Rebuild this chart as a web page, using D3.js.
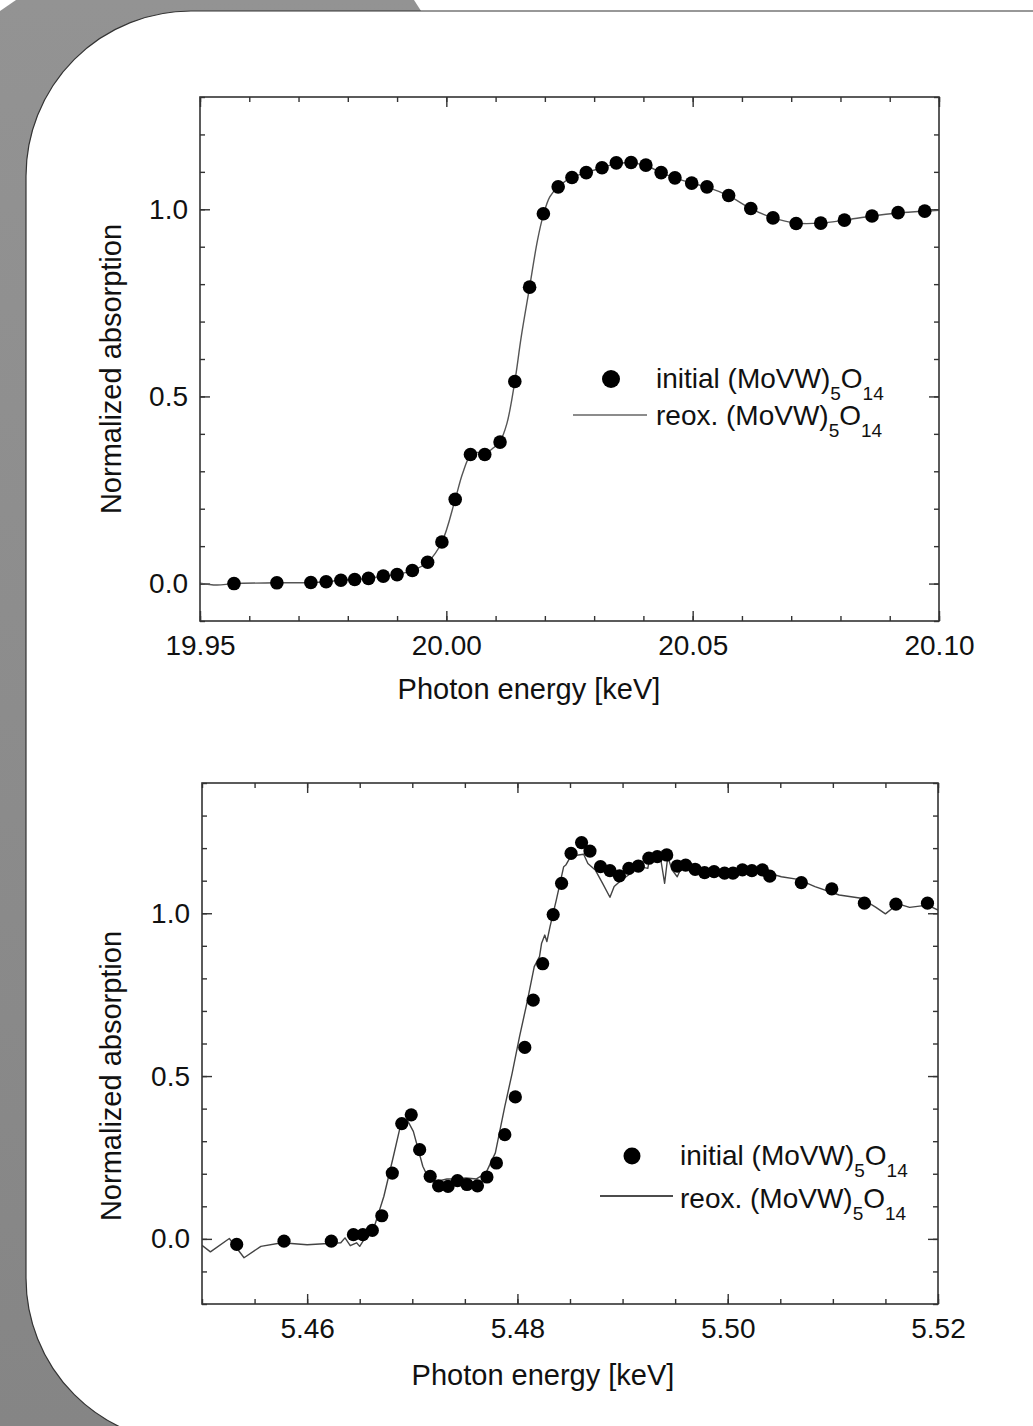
<!DOCTYPE html>
<html><head><meta charset="utf-8">
<script src="https://cdn.jsdelivr.net/npm/d3@7"></script>
<style>html,body{margin:0;padding:0;background:#fff;} svg{display:block}</style>
</head><body>
<svg id="chart" width="1033" height="1426"></svg>
<script>
// ---------------- DATA ----------------
// Upper panel: Mo K edge (keV)
const topInitialEnergy = [19.9569,19.9656,19.9725,19.9756,19.9786,19.9814,19.9842,19.9872,19.9900,19.9931,19.9962,19.9991,20.0018,20.0049,20.0078,20.0109,20.0139,20.0169,20.0197,20.0227,20.0255,20.0284,20.0316,20.0345,20.0375,20.0405,20.0436,20.0464,20.0498,20.0529,20.0573,20.0618,20.0663,20.0710,20.0760,20.0808,20.0864,20.0917,20.0971];
const topInitialValue  = [0.000,0.002,0.003,0.005,0.009,0.011,0.014,0.020,0.024,0.035,0.057,0.111,0.225,0.345,0.345,0.378,0.540,0.792,0.988,1.060,1.085,1.098,1.111,1.124,1.125,1.118,1.098,1.084,1.070,1.060,1.037,1.002,0.977,0.962,0.963,0.971,0.982,0.991,0.995];
const topReoxEnergy = [19.9500,19.9534,19.9570,19.9656,19.9725,19.9756,19.9786,19.9814,19.9842,19.9872,19.9900,19.9931,19.9962,19.9991,20.0018,20.0033,20.0049,20.0063,20.0078,20.0095,20.0109,20.0123,20.0139,20.0152,20.0169,20.0185,20.0197,20.0210,20.0227,20.0255,20.0284,20.0316,20.0345,20.0375,20.0405,20.0436,20.0464,20.0498,20.0529,20.0573,20.0618,20.0663,20.0710,20.0760,20.0808,20.0864,20.0917,20.0971,20.1000];
const topReoxValue  = [0.001,-0.004,0.000,0.002,0.003,0.005,0.009,0.011,0.014,0.020,0.024,0.035,0.057,0.111,0.225,0.294,0.343,0.350,0.347,0.362,0.380,0.428,0.540,0.659,0.792,0.917,0.985,1.033,1.060,1.085,1.098,1.111,1.122,1.124,1.117,1.098,1.084,1.070,1.059,1.036,1.002,0.977,0.963,0.963,0.971,0.982,0.990,0.995,0.997];
const topXTicks = [19.95, 20.00, 20.05, 20.10];
const topYTicks = [0.0, 0.5, 1.0];

// Lower panel: V K edge (keV)
const botInitialEnergy = [5.4533,5.4578,5.4623,5.4644,5.4653,5.4662,5.4671,5.4681,5.4690,5.4699,5.4707,5.4717,5.4725,5.4734,5.4743,5.4752,5.4762,5.4771,5.4780,5.4788,5.4798,5.4807,5.4815,5.4824,5.4834,5.4842,5.4851,5.4861,5.4869,5.4879,5.4888,5.4897,5.4906,5.4915,5.4925,5.4933,5.4942,5.4952,5.4960,5.4969,5.4978,5.4987,5.4997,5.5005,5.5014,5.5023,5.5033,5.5040,5.5070,5.5099,5.5130,5.5160,5.5190];
const botInitialValue  = [-0.017,-0.007,-0.007,0.013,0.013,0.026,0.071,0.202,0.354,0.381,0.274,0.192,0.163,0.161,0.179,0.167,0.163,0.190,0.233,0.320,0.436,0.588,0.733,0.845,0.996,1.092,1.184,1.217,1.191,1.143,1.131,1.115,1.138,1.145,1.169,1.174,1.179,1.145,1.148,1.135,1.125,1.128,1.123,1.123,1.133,1.131,1.133,1.114,1.094,1.075,1.031,1.028,1.031];
const botReoxEnergy = [5.4500,5.4508,5.4526,5.4540,5.4556,5.4576,5.4600,5.4632,5.4636,5.4641,5.4647,5.4650,5.4657,5.4664,5.4673,5.4682,5.4689,5.4695,5.4701,5.4710,5.4716,5.4724,5.4733,5.4742,5.4751,5.4761,5.4770,5.4779,5.4788,5.4795,5.4802,5.4809,5.4816,5.4821,5.4823,5.4826,5.4828,5.4831,5.4837,5.4844,5.4846,5.4851,5.4858,5.4863,5.4867,5.4874,5.4881,5.4888,5.4892,5.4899,5.4908,5.4917,5.4921,5.4924,5.4926,5.4936,5.4940,5.4943,5.4947,5.4952,5.4957,5.4968,5.4987,5.5005,5.5023,5.5039,5.5051,5.5067,5.5083,5.5106,5.5127,5.5141,5.5150,5.5162,5.5173,5.5190,5.5200];
const botReoxValue  = [-0.020,-0.040,0.001,-0.058,-0.023,-0.012,-0.018,-0.012,0.003,-0.021,-0.012,-0.023,0.013,0.039,0.131,0.253,0.351,0.366,0.330,0.223,0.182,0.177,0.184,0.184,0.187,0.184,0.202,0.264,0.407,0.509,0.621,0.724,0.836,0.867,0.908,0.933,0.913,0.959,1.041,1.143,1.148,1.176,1.179,1.181,1.153,1.133,1.092,1.049,1.082,1.102,1.123,1.153,1.140,1.138,1.174,1.172,1.092,1.174,1.133,1.112,1.148,1.138,1.131,1.128,1.133,1.123,1.112,1.104,1.082,1.056,1.046,1.018,0.998,1.029,1.018,1.025,1.010];
const botXTicks = [5.46, 5.48, 5.50, 5.52];
const botYTicks = [0.0, 0.5, 1.0];

const legendLabels = ["initial (MoVW)", "reox. (MoVW)"];
const xTitle = "Photon energy [keV]";
const yTitle = "Normalized absorption";

// ---------------- DRAW ----------------
const FONT = "'Liberation Sans', Arial, Helvetica, sans-serif";
const svg = d3.select('#chart');
const defs = svg.append('defs');
const grad = defs.append('linearGradient').attr('id','bg').attr('x1',0).attr('y1',0).attr('x2',0).attr('y2',1);
grad.append('stop').attr('offset','0%').attr('stop-color','#939393');
grad.append('stop').attr('offset','100%').attr('stop-color','#858585');
svg.append('path').attr('d','M0,11 L16,0 L414,0 L423,14 L423,1426 L0,1426 Z').attr('fill','url(#bg)');
svg.append('rect').attr('x',26).attr('y',11).attr('width',1200).attr('height',1432).attr('rx',165).attr('ry',165)
  .attr('fill','#fff').attr('stroke','#333').attr('stroke-width',1.2);

function styleAxis(g){
  g.attr('color','#333').attr('font-family',FONT).attr('font-size',28);
  g.select('.domain').remove();
  g.selectAll('.tick line').attr('stroke-width',1.4);
  g.selectAll('text').attr('fill','#111');
}

function panel(c){
  const x = d3.scaleLinear().domain(c.xDomain).range([c.left,c.right]);
  const y = d3.scaleLinear().domain(c.yDomain).range([c.bottom,c.top]);
  const g = svg.append('g');
  const fx = d3.format(c.xFmt), fy = d3.format('.1f');
  const xMin = d3.range(Math.round(c.xDomain[0]/c.xMinorStep), Math.round(c.xDomain[1]/c.xMinorStep)+1).map(k=>+(k*c.xMinorStep).toFixed(4));
  const yMin = d3.range(Math.round(c.yDomain[0]*10), Math.round(c.yDomain[1]*10)+1).map(k=>k/10);

  // minor ticks
  g.append('g').attr('transform',`translate(0,${c.bottom})`).call(d3.axisBottom(x).tickValues(xMin).tickSize(-5).tickSizeOuter(0).tickFormat('')).call(styleAxis);
  g.append('g').attr('transform',`translate(0,${c.top})`).call(d3.axisTop(x).tickValues(xMin).tickSize(-5).tickSizeOuter(0).tickFormat('')).call(styleAxis);
  g.append('g').attr('transform',`translate(${c.left},0)`).call(d3.axisLeft(y).tickValues(yMin).tickSize(-5).tickSizeOuter(0).tickFormat('')).call(styleAxis);
  g.append('g').attr('transform',`translate(${c.right},0)`).call(d3.axisRight(y).tickValues(yMin).tickSize(-5).tickSizeOuter(0).tickFormat('')).call(styleAxis);
  // major ticks
  g.append('g').attr('transform',`translate(0,${c.bottom})`).call(d3.axisBottom(x).tickValues(c.xTicks).tickSize(-10).tickSizeOuter(0).tickPadding(14).tickFormat(fx)).call(styleAxis);
  g.append('g').attr('transform',`translate(0,${c.top})`).call(d3.axisTop(x).tickValues(c.xTicks).tickSize(-10).tickSizeOuter(0).tickFormat('')).call(styleAxis);
  g.append('g').attr('transform',`translate(${c.left},0)`).call(d3.axisLeft(y).tickValues(c.yTicks).tickSize(-10).tickSizeOuter(0).tickPadding(12).tickFormat(fy)).call(styleAxis);
  g.append('g').attr('transform',`translate(${c.right},0)`).call(d3.axisRight(y).tickValues(c.yTicks).tickSize(-10).tickSizeOuter(0).tickFormat('')).call(styleAxis);

  // clip
  const cid = 'clip'+c.id;
  defs.append('clipPath').attr('id',cid).append('rect').attr('x',c.left).attr('y',c.top).attr('width',c.right-c.left).attr('height',c.bottom-c.top);

  const lineData = c.lineE.map((e,i)=>[e,c.lineV[i]]);
  g.append('path').datum(lineData).attr('clip-path',`url(#${cid})`)
    .attr('d', d3.line().x(d=>x(d[0])).y(d=>y(d[1])).curve(c.curve))
    .attr('fill','none').attr('stroke',c.lineColor).attr('stroke-width',1.4).attr('stroke-linejoin','round');

  g.append('g').selectAll('circle').data(c.dotE.map((e,i)=>[e,c.dotV[i]])).join('circle')
    .attr('cx',d=>x(d[0])).attr('cy',d=>y(d[1])).attr('r',c.dotR).attr('fill','#000');

  // frame
  g.append('rect').attr('x',c.left).attr('y',c.top).attr('width',c.right-c.left).attr('height',c.bottom-c.top)
    .attr('fill','none').attr('stroke','#333').attr('stroke-width',1.6);

  // titles
  g.append('text').attr('x',c.xTitleX).attr('y',c.xTitleY).attr('font-family',FONT).attr('font-size',29).attr('fill','#111')
    .attr('text-anchor','middle').text(xTitle);
  g.append('text').attr('transform',`translate(${c.yTitleX},${c.yTitleY}) rotate(-90)`).attr('font-family',FONT).attr('font-size',29).attr('fill','#111')
    .attr('text-anchor','middle').text(yTitle);

  // legend
  const L = c.legend;
  g.append('circle').attr('cx',L.dotX).attr('cy',L.row1-9).attr('r',L.dotR).attr('fill','#000');
  g.append('line').attr('x1',L.lineX1).attr('x2',L.lineX2).attr('y1',L.lineY).attr('y2',L.lineY).attr('stroke',L.lineColor).attr('stroke-width',1.4);
  [L.row1, L.row2].forEach((by,i)=>{
    const t = g.append('text').attr('x',L.textX).attr('y',by).attr('font-family',FONT).attr('font-size',28).attr('fill','#111');
    t.append('tspan').text(legendLabels[i]);
    t.append('tspan').attr('font-size',19).attr('dy',12).text('5');
    t.append('tspan').attr('font-size',28).attr('dy',-12).text('O');
    t.append('tspan').attr('font-size',19).attr('dy',12).text('14');
  });
}

panel({id:1, left:200, right:939, top:97, bottom:621,
  xDomain:[19.95,20.10], yDomain:[-0.1,1.3], xTicks:topXTicks, yTicks:topYTicks, xFmt:'.2f', xMinorStep:0.01,
  lineE:topReoxEnergy, lineV:topReoxValue, dotE:topInitialEnergy, dotV:topInitialValue,
  curve:d3.curveCatmullRom.alpha(0.5), lineColor:'#555', dotR:6.8,
  xTitleX:529, xTitleY:699, yTitleX:121, yTitleY:369,
  legend:{dotX:611, dotR:9, row1:388, row2:425, textX:656, lineX1:573, lineX2:647, lineY:415, lineColor:'#666'}
});

panel({id:2, left:202, right:938, top:783, bottom:1304,
  xDomain:[5.45,5.52], yDomain:[-0.2,1.4], xTicks:botXTicks, yTicks:botYTicks, xFmt:'.2f', xMinorStep:0.005,
  lineE:botReoxEnergy, lineV:botReoxValue, dotE:botInitialEnergy, dotV:botInitialValue,
  curve:d3.curveLinear, lineColor:'#444', dotR:6.6,
  xTitleX:543, xTitleY:1385, yTitleX:121, yTitleY:1076,
  legend:{dotX:632, dotR:8.5, row1:1165, row2:1208, textX:680, lineX1:600, lineX2:673, lineY:1196, lineColor:'#111'}
});
</script>
</body></html>
